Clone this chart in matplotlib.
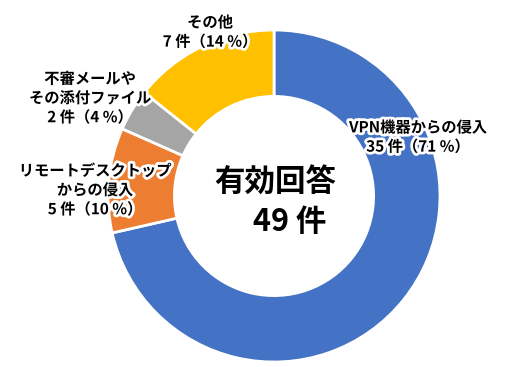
import matplotlib
matplotlib.use("Agg")
import matplotlib.pyplot as plt
import matplotlib.patheffects as pe

plt.rcParams['font.family'] = ['Noto Sans CJK JP', 'DejaVu Sans']

categories = ["VPN機器からの侵入", "リモートデスクトップ\nからの侵入", "不審メールや\nその添付ファイル", "その他"]
counts = [35, 5, 2, 7]
percents = [71, 10, 4, 14]
colors = ["#4472C4", "#ED7D31", "#A5A5A5", "#FFC000"]
total = 49

W, H = 510, 367
fig = plt.figure(figsize=(W / 100, H / 100), dpi=100)
cx, cy, r = 274, 196, 166
ax = fig.add_axes([(cx - r) / W, (H - cy - r) / H, 2 * r / W, 2 * r / H])
ax.pie(counts, colors=colors, startangle=90, counterclock=False,
       wedgeprops=dict(width=0.40, edgecolor="white", linewidth=2))
ax.set_aspect("equal")
ax.set_xlim(-1, 1)
ax.set_ylim(-1, 1)
ax.axis("off")

# label anchor positions in figure pixels (center x, center y from top)
label_pos = [(418, 137), (95, 190), (90, 98), (210, 32)]
halo = [pe.withStroke(linewidth=4, foreground="white")]
for name, c, p, (lx, ly) in zip(categories, counts, percents, label_pos):
    txt = f"{name}\n{c} 件（{p} %）"
    fig.text(lx / W, 1 - ly / H, txt, ha="center", va="center", fontsize=11,
             fontweight="bold", linespacing=1.25, path_effects=halo, color="black")

fig.text(275 / W, 1 - 183 / H, "有効回答", ha="center", va="center",
         fontsize=22, fontweight="bold")
fig.text(290 / W, 1 - 222 / H, f"{total} 件", ha="center", va="center",
         fontsize=22, fontweight="bold")

fig.savefig("out.png", dpi=100)
